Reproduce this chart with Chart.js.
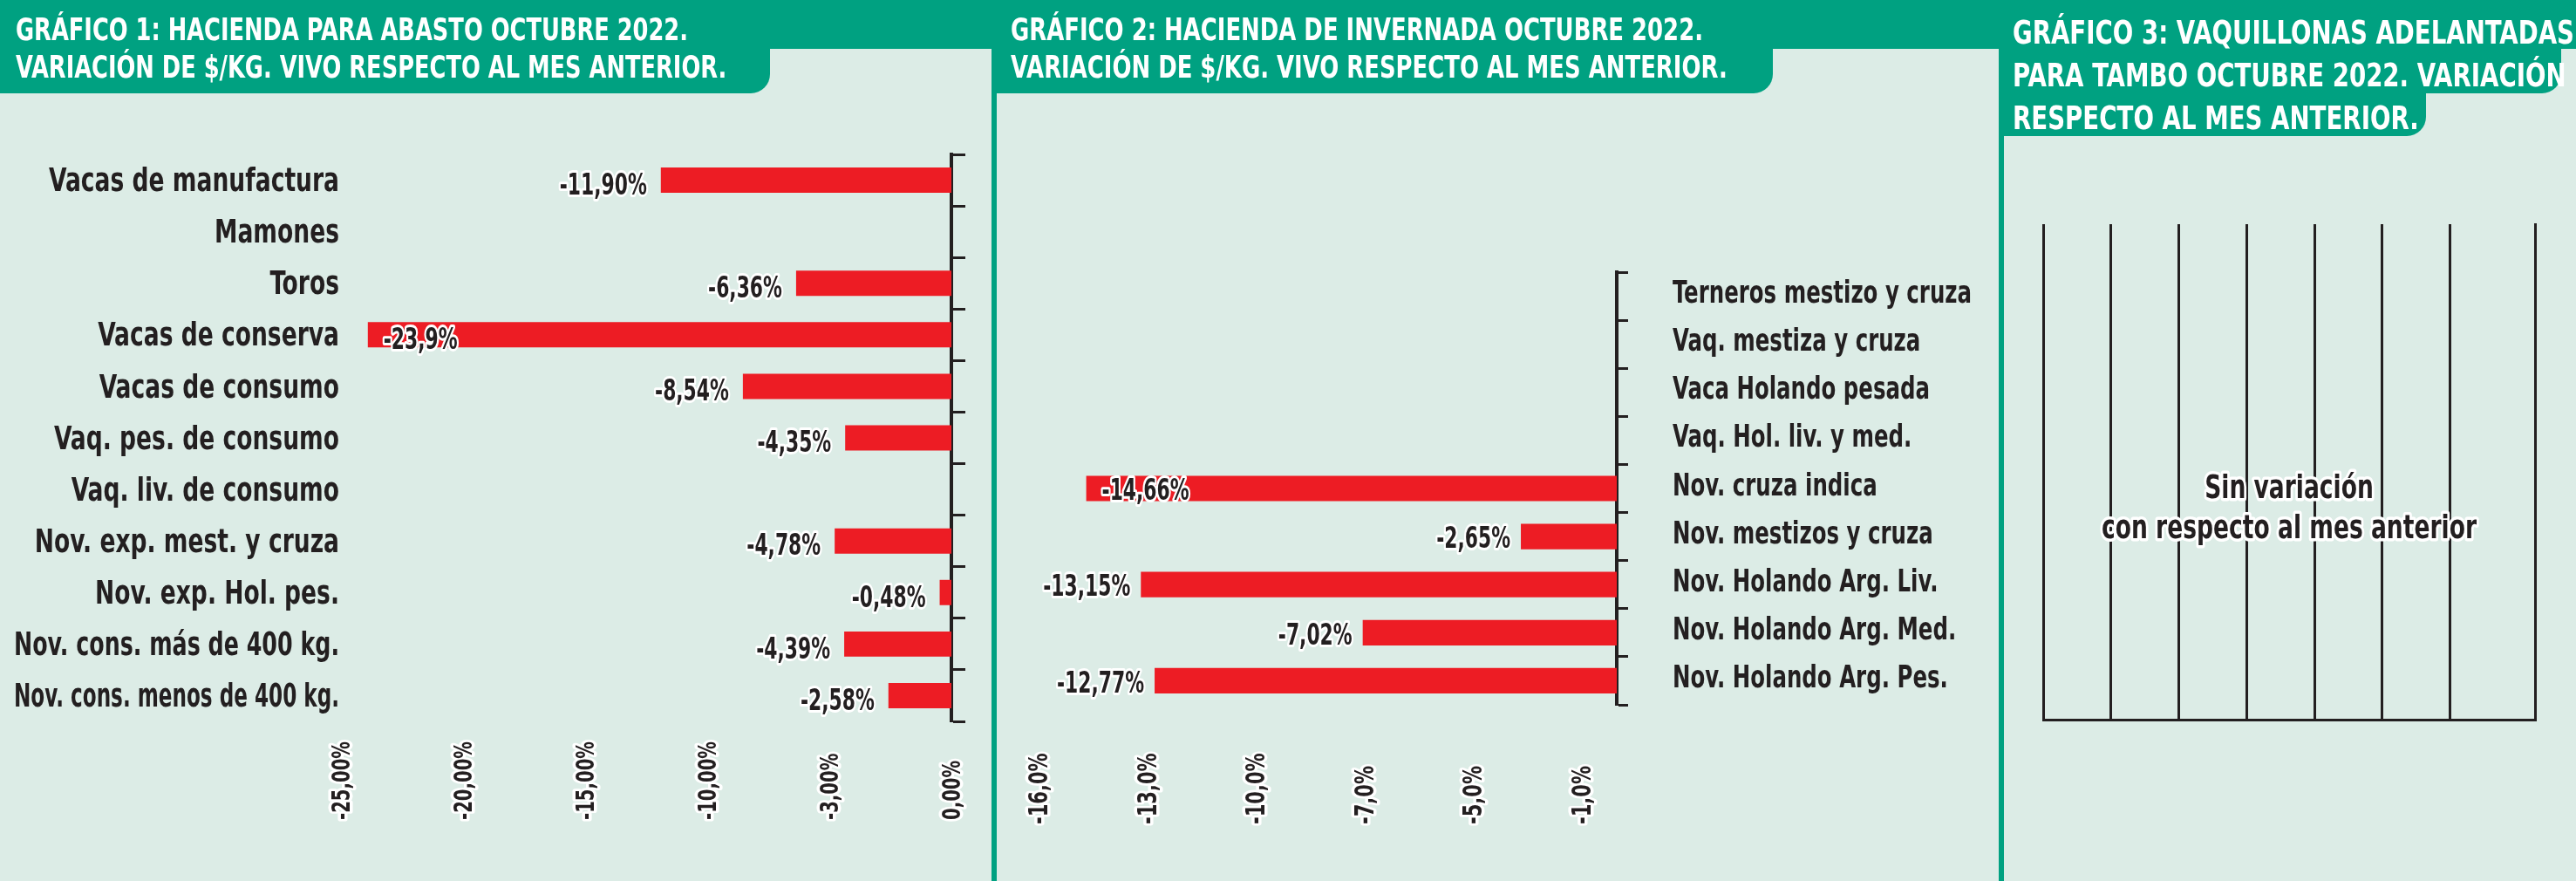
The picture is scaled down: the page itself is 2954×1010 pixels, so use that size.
<!DOCTYPE html>
<html lang="es">
<head>
<meta charset="utf-8">
<script src="https://cdn.jsdelivr.net/npm/chart.js@4.4.1/dist/chart.umd.min.js"></script>
<style>
  html,body{margin:0;padding:0;}
  body{width:2954px;height:1010px;position:relative;overflow:hidden;background:#dcece6;
       font-family:"Liberation Sans Narrow","Noto Sans Condensed","DejaVu Sans Condensed",sans-serif;}
  .verde{position:absolute;background:#00a181;z-index:0;}
  .titulo{position:absolute;color:#fff;font-weight:bold;font-size:35px;line-height:43px;white-space:nowrap;
          z-index:3;transform-origin:0 0;}
  canvas{position:absolute;top:0;z-index:1;}
</style>
</head>
<body>
<!-- bandas y pestañas verdes -->
<div class="verde" style="left:0;top:0;width:2954px;height:56px"></div>
<div class="verde" style="left:0;top:0;width:883px;height:107px;border-bottom-right-radius:22px"></div>
<div class="verde" style="left:1137px;top:0;width:896px;height:107px;border-bottom-right-radius:22px"></div>
<div class="verde" style="left:2292px;top:0;width:645px;height:107px;border-bottom-right-radius:22px"></div>
<div class="verde" style="left:2292px;top:0;width:490px;height:156px;border-bottom-right-radius:22px"></div>
<div class="verde" style="left:1137px;top:0;width:6px;height:1010px"></div>
<div class="verde" style="left:2292px;top:0;width:6px;height:1010px"></div>

<div class="titulo" id="t1" style="left:18px;top:13px">GRÁFICO 1: HACIENDA PARA ABASTO OCTUBRE 2022.<br>VARIACIÓN DE $/KG. VIVO RESPECTO AL MES ANTERIOR.</div>
<div class="titulo" id="t2" style="left:1159px;top:13px">GRÁFICO 2: HACIENDA DE INVERNADA OCTUBRE 2022.<br>VARIACIÓN DE $/KG. VIVO RESPECTO AL MES ANTERIOR.</div>
<div class="titulo" id="t3" style="left:2308px;top:13px;font-size:37px;line-height:49px">GRÁFICO 3: VAQUILLONAS ADELANTADAS<br>PARA TAMBO OCTUBRE 2022. VARIACIÓN<br>RESPECTO AL MES ANTERIOR.</div>

<canvas id="c1" width="1137" height="1010" style="left:0"></canvas>
<canvas id="c2" width="1149" height="1010" style="left:1143px"></canvas>
<canvas id="c3" width="656" height="1010" style="left:2298px"></canvas>

<script>
/* ---------- DATOS ---------- */
const p1Categorias = ["Vacas de manufactura","Mamones","Toros","Vacas de conserva","Vacas de consumo",
  "Vaq. pes. de consumo","Vaq. liv. de consumo","Nov. exp. mest. y cruza","Nov. exp. Hol. pes.",
  "Nov. cons. más de 400 kg.","Nov. cons. menos de 400 kg."];
const p1Valores = [-11.90,null,-6.36,-23.9,-8.54,-4.35,null,-4.78,-0.48,-4.39,-2.58];
const p1Etiquetas = ["-11,90%","","-6,36%","-23,9%","-8,54%","-4,35%","","-4,78%","-0,48%","-4,39%","-2,58%"];
const p1Ticks = [-25,-20,-15,-10,-5,0];
const p1TickTxt = ["-25,00%","-20,00%","-15,00%","-10,00%","-3,00%","0,00%"];

const p2Categorias = ["Terneros mestizo y cruza","Vaq. mestiza y cruza","Vaca Holando pesada",
  "Vaq. Hol. liv. y med.","Nov. cruza indica","Nov. mestizos y cruza","Nov. Holando Arg. Liv.",
  "Nov. Holando Arg. Med.","Nov. Holando Arg. Pes."];
const p2Valores = [null,null,null,null,-14.66,-2.65,-13.15,-7.02,-12.77];
const p2Etiquetas = ["","","","","-14,66%","-2,65%","-13,15%","-7,02%","-12,77%"];
const p2Ticks = [-16,-13,-10,-7,-4,-1];
const p2TickTxt = ["-16,0%","-13,0%","-10,0%","-7,0%","-5,0%","-1,0%"];

const p3Categorias = [];
const p3Valores = [];
const p3Lineas = [0,1,2,3,4,5,6];
const p3Texto = ["Sin variación","con respecto al mes anterior"];

/* ---------- ESTILO ---------- */
const FAM = '"Liberation Sans Narrow","Noto Sans Condensed","DejaVu Sans Condensed",sans-serif';
const OSCURO = '#231f20';
const ROJO = '#ed1c24';

// compresión horizontal para imitar la letra estrecha del original
const medidor = document.createElement('canvas').getContext('2d');
function medir(t, size){ medidor.font = 'bold ' + size + 'px ' + FAM; return medidor.measureText(t).width; }
const K  = 333 / medir('Vacas de manufactura', 38);   // rótulos
const KD = 100 / medir('-13,15%', 34);                // valores
const KT = 90 / medir('-25,00%', 29);                 // eje

document.getElementById('t1').style.transform = 'scaleX(' + (771 / medir('GRÁFICO 1: HACIENDA PARA ABASTO OCTUBRE 2022.', 35)) + ')';
document.getElementById('t2').style.transform = 'scaleX(' + (794 / medir('GRÁFICO 2: HACIENDA DE INVERNADA OCTUBRE 2022.', 35)) + ')';
document.getElementById('t3').style.transform = 'scaleX(' + (644 / medir('GRÁFICO 3: VAQUILLONAS ADELANTADAS', 37)) + ')';

function narrow(ctx, t, x, y, size, align, halo, kx, maxW){
  ctx.save();
  ctx.font = 'bold ' + size + 'px ' + FAM;
  ctx.textAlign = align;
  ctx.textBaseline = 'alphabetic';
  ctx.translate(x, y);
  ctx.scale(kx, 1);
  const mw = maxW ? maxW / kx : undefined;
  if(halo){
    ctx.lineJoin = 'round';
    ctx.strokeStyle = '#fff'; ctx.lineWidth = halo;
    mw ? ctx.strokeText(t, 0, 0, mw) : ctx.strokeText(t, 0, 0);
  }
  ctx.fillStyle = OSCURO;
  mw ? ctx.fillText(t, 0, 0, mw) : ctx.fillText(t, 0, 0);
  ctx.restore();
}

/* rótulos de categoría */
function categorias(textos, lado, sep, size, dy){
  return {
    id:'categorias',
    afterDraw(chart){
      const ctx = chart.ctx, a = chart.chartArea, sy = chart.scales.y;
      const x = lado === 'left' ? a.left - sep : a.right + sep;
      const maxW = lado === 'left' ? x - 16 : chart.width - x - 4;
      textos.forEach((t, i) => {
        narrow(ctx, t, x, sy.getPixelForValue(i) + dy + size*0.36, size,
               lado === 'left' ? 'right' : 'left', 0, K, maxW);
      });
    }
  };
}

/* etiquetas de valor junto a cada barra */
function etiquetasBarras(textos, gap, dy){
  return {
    id:'etiquetas',
    afterDatasetsDraw(chart){
      const ctx = chart.ctx, area = chart.chartArea, size = 34;
      chart.getDatasetMeta(0).data.forEach((bar, i) => {
        const t = textos[i];
        if(!t) return;
        const w = medir(t, size) * KD;
        let x = bar.x - gap, al = 'right';
        if(x - w < area.left - 20){ x = bar.x + 18; al = 'left'; }
        narrow(ctx, t, x, bar.y + dy + size*0.36, size, al, 6, KD);
      });
    }
  };
}

/* rótulos del eje de valores, girados */
function ticksX(valores, textos, base, size){
  return {
    id:'ticksx',
    afterDraw(chart){
      const ctx = chart.ctx, sx = chart.scales.x;
      valores.forEach((v, i) => {
        ctx.save();
        ctx.translate(sx.getPixelForValue(v), base);
        ctx.rotate(-Math.PI/2);
        narrow(ctx, textos[i], 0, size*0.36, size, 'left', 7, KT);
        ctx.restore();
      });
    }
  };
}

const base = {
  indexAxis:'y', responsive:false, animation:false, devicePixelRatio:1,
  plugins:{legend:{display:false}, tooltip:{enabled:false}}
};

/* ---------- GRÁFICO 1 ---------- */
new Chart(document.getElementById('c1'), {
  type:'bar',
  data:{labels:p1Categorias, datasets:[{data:p1Valores, backgroundColor:ROJO, barPercentage:0.49, categoryPercentage:1}]},
  options:{...base,
    layout:{padding:{left:391, right:26, top:177, bottom:183}},
    scales:{
      x:{type:'linear', min:-25, max:0, display:false},
      y:{position:'right', offset:true,
         grid:{offset:true, drawOnChartArea:false, drawTicks:true, tickLength:16, tickWidth:3, tickColor:OSCURO},
         border:{display:true, color:OSCURO, width:4}, ticks:{display:false},
         afterFit:s => { s.width = 20; }}
    }
  },
  plugins:[categorias(p1Categorias, 'left', 2, 38, -1), etiquetasBarras(p1Etiquetas, 16, 4),
           ticksX(p1Ticks, p1TickTxt, 940, 29)]
});

/* ---------- GRÁFICO 2 ---------- */
new Chart(document.getElementById('c2'), {
  type:'bar',
  data:{labels:p2Categorias, datasets:[{data:p2Valores, backgroundColor:ROJO, barPercentage:0.53, categoryPercentage:1}]},
  options:{...base,
    layout:{padding:{left:47, right:425, top:312, bottom:202}},
    scales:{
      x:{type:'linear', min:-16, max:0, display:false},
      y:{position:'right', offset:true,
         grid:{offset:true, drawOnChartArea:false, drawTicks:true, tickLength:13, tickWidth:3, tickColor:OSCURO},
         border:{display:true, color:OSCURO, width:4}, ticks:{display:false},
         afterFit:s => { s.width = 13; }}
    }
  },
  plugins:[categorias(p2Categorias, 'right', 64, 35, -5), etiquetasBarras(p2Etiquetas, 12, 1),
           ticksX(p2Ticks, p2TickTxt, 945, 31)]
});

/* ---------- GRÁFICO 3 ---------- */
new Chart(document.getElementById('c3'), {
  type:'bar',
  data:{labels:p3Categorias, datasets:[{data:p3Valores, backgroundColor:ROJO}]},
  options:{...base,
    layout:{padding:{left:45, right:47, top:257, bottom:185}},
    scales:{
      x:{type:'linear', min:0, max:7.25,
         afterBuildTicks:s => { s.ticks = p3Lineas.map(v => ({value:v})); },
         grid:{color:OSCURO, lineWidth:3, drawTicks:false},
         border:{display:true, color:OSCURO, width:3}, ticks:{display:false}},
      y:{position:'right', grid:{drawOnChartArea:false, drawTicks:false},
         border:{display:true, color:OSCURO, width:3}, ticks:{display:false}}
    }
  },
  plugins:[{
    id:'sinvariacion',
    afterDraw(chart){
      const a = chart.chartArea, cx = (a.left + a.right)/2;
      narrow(chart.ctx, p3Texto[0], cx, a.top + 314, 38, 'center', 7, K);
      narrow(chart.ctx, p3Texto[1], cx, a.top + 360, 38, 'center', 7, K);
    }
  }]
});
</script>
</body>
</html>
